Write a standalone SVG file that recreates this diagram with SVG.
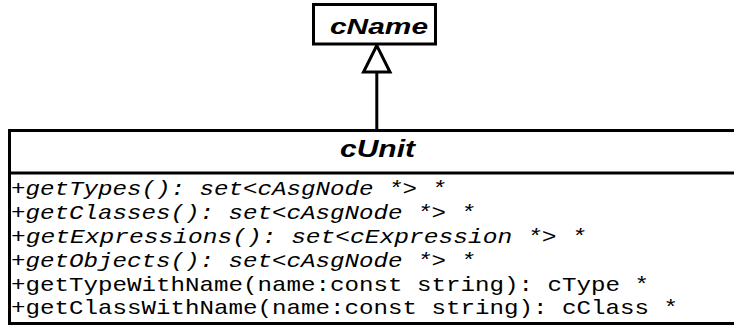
<svg xmlns="http://www.w3.org/2000/svg" width="734" height="328" viewBox="0 0 734 328">
<style>
.box{fill:#fff;stroke:#000;stroke-width:3}
.title{font-family:"Liberation Sans",Arial,sans-serif;font-weight:bold;font-style:italic;fill:#000}
.op{font-family:"Liberation Mono","Courier New",monospace;font-size:21px;fill:#000}
.abs{font-style:italic}
.edge{fill:none;stroke:#000;stroke-width:3}
</style>
<rect width="734" height="328" fill="#fff"/>
<g id="connectors">
<line class="edge" x1="376.8" y1="72" x2="376.8" y2="129"/>
<polygon class="edge" points="376.8,45.5 363.5,72 390,72" style="fill:#fff"/>
</g>
<g id="cName">
<rect class="box" x="313.5" y="4.5" width="122" height="39.5"/>
<text class="title" x="330" y="34" font-size="22" textLength="98" lengthAdjust="spacingAndGlyphs">cName</text>
</g>
<g id="cUnit">
<rect class="box" x="9.5" y="130.5" width="736" height="193"/>
<line x1="9.5" y1="173" x2="745.5" y2="173" stroke="#000" stroke-width="3"/>
<text class="title" x="340" y="157" font-size="24" textLength="75" lengthAdjust="spacingAndGlyphs">cUnit</text>
<text class="op abs" x="11" y="195" textLength="435" lengthAdjust="spacingAndGlyphs">+getTypes(): set&lt;cAsgNode *&gt; *</text>
<text class="op abs" x="11" y="219" textLength="464" lengthAdjust="spacingAndGlyphs">+getClasses(): set&lt;cAsgNode *&gt; *</text>
<text class="op abs" x="11" y="243" textLength="575" lengthAdjust="spacingAndGlyphs">+getExpressions(): set&lt;cExpression *&gt; *</text>
<text class="op abs" x="11" y="266.5" textLength="464" lengthAdjust="spacingAndGlyphs">+getObjects(): set&lt;cAsgNode *&gt; *</text>
<text class="op" x="11" y="290.5" textLength="638" lengthAdjust="spacingAndGlyphs">+getTypeWithName(name:const string): cType *</text>
<text class="op" x="11" y="314" textLength="667" lengthAdjust="spacingAndGlyphs">+getClassWithName(name:const string): cClass *</text>
</g>
</svg>
